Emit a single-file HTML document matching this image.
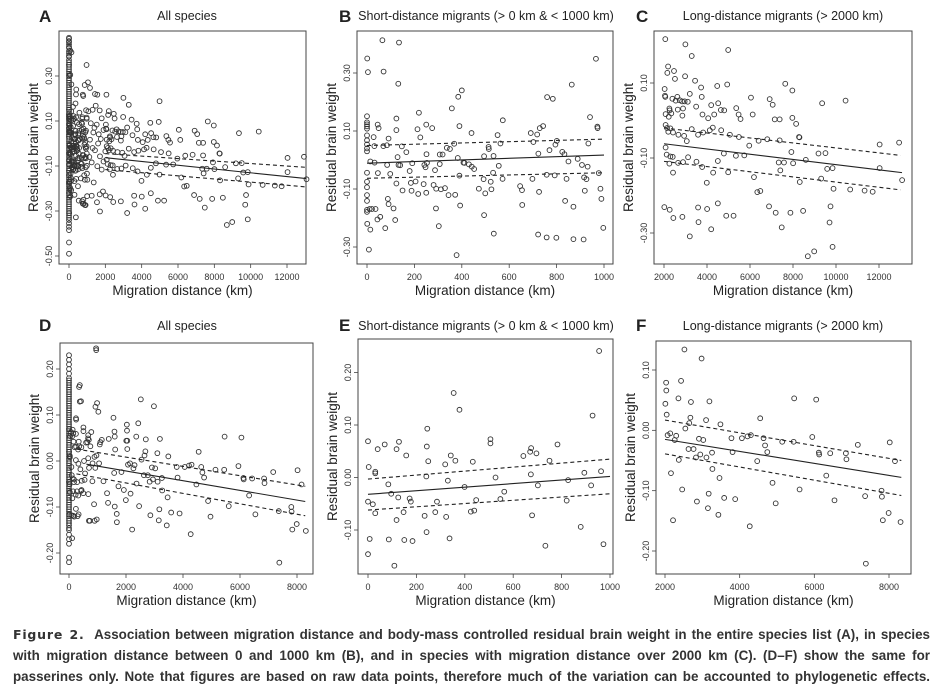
<!DOCTYPE html>
<html><head><meta charset="utf-8">
<style>
html,body{margin:0;padding:0;background:#fff;}
body{width:942px;height:699px;overflow:hidden;position:relative;font-family:"Liberation Sans",sans-serif;}
#fig{position:absolute;left:0;top:0;}
.cap{position:absolute;left:13px;width:917px;font-family:"Liberation Sans",sans-serif;font-weight:bold;font-size:13.4px;color:#333;text-align:justify;text-align-last:justify;white-space:nowrap;line-height:21px;}
.cap span.fig{letter-spacing:0.8px;font-family:"DejaVu Sans",sans-serif;font-size:12.5px;}
</style></head>
<body>
<svg id="fig" width="942" height="610" xmlns="http://www.w3.org/2000/svg"></svg>
<div class="cap" style="top:624px"><span class="fig">Figure 2.</span>&nbsp; Association between migration distance and body-mass controlled residual brain weight in the entire species list (A), in species</div>
<div class="cap" style="top:645px">with migration distance between 0 and 1000 km (B), and in species with migration distance over 2000 km (C). (D–F) show the same for</div>
<div class="cap" style="top:666px">passerines only. Note that figures are based on raw data points, therefore much of the variation can be accounted to phylogenetic effects.</div>
<script>
// ---------- DATA ----------
const aZero = [0.47,0.465,0.455,0.45,0.44,0.43,0.425,0.41,0.40,0.39,0.385,0.37,0.36,0.35,0.34,0.33,0.32,0.31,0.30,0.29,0.28,0.27,0.26,0.25,0.24,0.23,0.22,0.21,0.20,0.19,0.18,0.17,0.16,0.15,0.14,0.13,0.12,0.11,0.10,0.09,0.08,0.07,0.06,0.05,0.04,0.03,0.02,0.01,0.0,-0.01,-0.02,-0.03,-0.04,-0.05,-0.06,-0.07,-0.08,-0.09,-0.10,-0.11,-0.12,-0.13,-0.14,-0.15,-0.16,-0.17,-0.18,-0.19,-0.20,-0.21,-0.22,-0.23,-0.24,-0.25,-0.26,-0.27,-0.28,-0.29,-0.30,-0.31,-0.32,-0.33,-0.34,-0.355,-0.37,-0.385,-0.44,-0.49];
const aMid = [[1045,0.272],[1155,0.247],[1430,0.220],[1560,0.217],[1065,0.143],[1300,0.150],[1470,0.168],[1690,0.147],[1800,0.112],[1525,0.084],[1340,0.049],[1635,0.041],[1155,0.017],[970,-0.013],[1430,-0.030],[1705,-0.057],[1250,-0.084],[1560,-0.101],[1010,-0.161],[1360,-0.173],[1250,-0.232],[1690,-0.226],[1870,-0.213],[1540,-0.261],[1705,-0.302],[790,-0.250],[1800,-0.116],[1120,-0.060],[2000,-0.035],[1900,0.06],[1200,0.09],[1600,0.0],[600,0.02],[450,-0.03],[1300,-0.02],[1750,0.02],[900,0.05],[1900,-0.08],[1400,0.07],[700,-0.09]];
const bPoints = [[65,0.413],[135,0.405],[1,0.35],[4,0.303],[70,0.305],[132,0.263],[0,0.151],[0,0.130],[0,0.123],[0,0.116],[0,0.108],[0,0.085],[0,0.068],[0,0.054],[0,0.040],[0,0.030],[0,-0.044],[0,-0.075],[0,-0.094],[0,-0.121],[0,-0.141],[0,-0.172],[0,-0.179],[1,-0.220],[8,-0.309],[14,-0.005],[14,-0.240],[11,-0.169],[21,-0.169],[28,0.079],[31,0.048],[32,-0.009],[36,-0.169],[44,-0.205],[45,0.122],[49,0.110],[46,-0.045],[56,-0.196],[77,-0.235],[69,0.048],[84,0.051],[85,-0.017],[88,-0.134],[91,0.074],[91,-0.152],[98,-0.048],[112,-0.167],[119,-0.207],[124,0.143],[124,0.103],[124,-0.081],[129,0.010],[133,-0.017],[140,-0.018],[147,0.047],[150,-0.105],[166,0.027],[180,-0.038],[185,-0.079],[188,-0.106],[191,-0.011],[205,-0.074],[213,0.106],[216,-0.117],[219,0.163],[225,0.078],[242,-0.017],[239,-0.083],[247,-0.025],[250,0.122],[250,-0.113],[251,0.020],[253,-0.010],[275,0.110],[281,-0.086],[287,-0.035],[291,-0.167],[292,-0.099],[303,-0.228],[307,-0.014],[312,-0.101],[307,0.019],[319,0.019],[329,-0.097],[337,0.042],[344,-0.121],[350,0.038],[358,0.178],[368,0.056],[372,-0.120],[378,-0.328],[383,0.007],[385,0.218],[390,0.117],[390,-0.054],[393,-0.157],[400,0.240],[407,-0.009],[411,-0.010],[430,-0.015],[441,0.093],[442,-0.023],[452,-0.031],[472,-0.099],[492,-0.066],[494,-0.190],[499,-0.115],[494,0.013],[513,0.045],[514,0.038],[522,-0.075],[525,-0.101],[532,-0.044],[534,0.014],[535,-0.254],[551,0.086],[556,-0.020],[563,0.057],[573,0.137],[572,-0.065],[646,-0.090],[654,-0.104],[655,-0.155],[698,-0.065],[691,0.093],[702,0.062],[718,0.088],[723,0.022],[726,-0.110],[729,0.110],[743,0.117],[722,-0.257],[758,-0.051],[760,0.217],[770,0.034],[784,0.211],[792,-0.053],[795,0.053],[801,0.066],[758,-0.267],[799,-0.268],[824,0.028],[833,0.020],[836,-0.141],[842,-0.065],[850,-0.005],[864,0.260],[871,-0.161],[871,-0.273],[889,0.004],[907,-0.017],[916,-0.060],[914,-0.274],[919,-0.106],[926,-0.066],[931,-0.023],[941,0.148],[934,0.057],[966,0.349],[972,0.115],[973,0.110],[978,-0.045],[985,-0.099],[989,-0.134],[997,-0.234]];
const cPoints = [[2060,0.217],[2995,0.203],[3290,0.172],[4985,0.188],[2190,0.144],[2155,0.127],[2465,0.132],[2510,0.111],[2980,0.118],[3445,0.106],[2030,0.084],[2045,0.066],[2060,0.063],[3200,0.071],[3725,0.088],[4475,0.092],[4940,0.096],[2390,0.058],[2545,0.053],[2620,0.063],[2730,0.054],[2840,0.051],[2960,0.051],[3105,0.050],[3755,0.063],[2250,0.032],[2340,0.019],[2265,0.027],[2640,0.029],[2885,0.032],[3495,0.037],[4195,0.041],[4520,0.046],[4645,0.028],[4800,0.027],[5360,0.033],[6045,0.061],[6125,0.016],[6915,0.057],[7055,0.042],[7640,0.098],[7970,0.080],[9355,0.046],[10445,0.053],[2075,0.017],[2220,0.010],[2855,0.013],[3790,0.016],[4055,0.006],[4335,0.016],[5470,0.016],[5560,0.004],[7150,0.003],[7380,0.003],[7970,0.007],[8145,-0.009],[2075,-0.012],[2140,-0.020],[2295,-0.021],[2200,-0.030],[2420,-0.032],[2670,-0.038],[2935,-0.041],[3060,-0.055],[3290,-0.023],[3585,-0.038],[3820,-0.032],[4130,-0.026],[4270,-0.019],[4660,-0.026],[5065,-0.038],[5485,-0.044],[5965,-0.067],[6400,-0.054],[6805,-0.050],[7380,-0.053],[8280,-0.044],[8300,-0.045],[2075,-0.072],[2125,-0.091],[2295,-0.096],[2405,-0.097],[2250,-0.115],[2420,-0.139],[2655,-0.113],[2885,-0.111],[3120,-0.098],[3510,-0.110],[3775,-0.124],[3990,-0.166],[4285,-0.139],[4505,-0.108],[4785,-0.088],[4985,-0.138],[5345,-0.094],[5735,-0.093],[6185,-0.151],[6340,-0.191],[6480,-0.188],[7335,-0.112],[7410,-0.133],[7580,-0.112],[7925,-0.084],[8005,-0.114],[8315,-0.164],[8595,-0.105],[9185,-0.088],[9510,-0.087],[9590,-0.129],[9840,-0.127],[9310,-0.155],[2015,-0.231],[2265,-0.238],[2435,-0.260],[2855,-0.257],[3585,-0.232],[3605,-0.271],[4005,-0.236],[4195,-0.290],[3200,-0.309],[4505,-0.221],[4895,-0.254],[5235,-0.254],[6885,-0.229],[7195,-0.246],[7475,-0.285],[7880,-0.246],[8470,-0.241],[9700,-0.272],[9745,-0.229],[9840,-0.337],[8985,-0.349],[8690,-0.362],[10660,-0.184],[11330,-0.187],[11705,-0.190],[12030,-0.064],[12030,-0.127],[12935,-0.059],[13075,-0.159],[9885,-0.182]];
const dZero = [0.23,0.22,0.21,0.20,0.19,0.18,0.175,0.17,0.165,0.16,0.155,0.15,0.145,0.14,0.135,0.13,0.125,0.12,0.115,0.11,0.105,0.10,0.095,0.09,0.085,0.08,0.075,0.07,0.065,0.06,0.055,0.05,0.045,0.04,0.035,0.03,0.025,0.02,0.015,0.01,0.005,0.0,-0.005,-0.01,-0.015,-0.02,-0.025,-0.03,-0.035,-0.04,-0.045,-0.05,-0.055,-0.06,-0.065,-0.07,-0.075,-0.08,-0.085,-0.09,-0.095,-0.10,-0.105,-0.11,-0.115,-0.12,-0.125,-0.13,-0.135,-0.14,-0.15,-0.16,-0.17,-0.18,-0.21,-0.22];
const dMid = [[985,0.126],[1030,0.107],[1080,0.036],[1100,0.041],[1055,-0.005],[1150,0.046],[1210,-0.044],[1335,-0.070],[1370,-0.091],[1395,0.048],[1560,0.094],[1595,0.064],[1605,0.053],[1620,0.025],[1585,-0.026],[1605,-0.099],[1675,-0.115],[1680,-0.133],[1735,-0.055],[1840,-0.024],[1925,-0.063],[1995,-0.085],[2045,0.044],[380,0.165],[420,0.13],[250,0.09],[150,0.06],[200,0.03],[300,-0.12],[700,-0.13],[900,-0.13],[500,-0.07],[600,0.04],[950,0.245]];
const ePoints = [[0,0.069],[3,0.020],[7,-0.117],[0,-0.146],[0,-0.046],[20,-0.051],[30,-0.068],[30,0.011],[30,0.008],[40,0.054],[69,0.063],[84,-0.013],[86,-0.118],[96,-0.031],[109,-0.168],[118,0.054],[118,-0.081],[125,-0.038],[128,0.068],[150,-0.119],[147,-0.066],[158,0.042],[172,-0.040],[177,-0.046],[184,-0.121],[234,-0.073],[242,-0.104],[241,0.002],[243,0.059],[245,0.093],[249,0.031],[278,-0.066],[285,-0.046],[319,0.025],[323,-0.075],[330,-0.006],[337,-0.116],[342,0.042],[354,0.161],[361,0.032],[378,0.129],[399,-0.018],[425,-0.065],[433,0.030],[439,-0.063],[447,-0.043],[506,0.073],[506,0.065],[527,0.0],[547,-0.041],[563,-0.027],[642,0.041],[670,0.049],[674,0.056],[673,0.006],[678,-0.072],[696,0.046],[702,-0.015],[733,-0.130],[750,0.032],[783,0.063],[821,-0.044],[827,-0.005],[879,-0.094],[894,0.009],[922,-0.015],[928,0.118],[955,0.241],[963,0.012],[973,-0.127]];
const fPoints = [[2030,0.079],[2035,0.066],[2010,0.044],[2045,0.026],[2070,-0.008],[2140,-0.005],[2160,-0.071],[2215,-0.149],[2260,-0.016],[2300,-0.009],[2360,0.053],[2370,-0.049],[2430,0.082],[2460,-0.098],[2520,0.134],[2545,0.003],[2630,-0.031],[2650,0.012],[2680,0.021],[2695,0.047],[2765,-0.031],[2830,-0.045],[2855,-0.118],[2910,-0.014],[2945,-0.040],[2980,0.119],[3025,-0.016],[3110,-0.045],[3100,0.017],[3170,-0.105],[3150,-0.129],[3190,0.048],[3260,-0.037],[3270,-0.064],[3430,-0.140],[3460,-0.079],[3485,0.010],[3585,-0.112],[3780,-0.013],[3810,-0.036],[3880,-0.114],[4060,-0.013],[4210,-0.010],[4270,-0.159],[4300,-0.008],[4470,-0.051],[4550,0.020],[4640,-0.013],[4680,-0.025],[4740,-0.036],[4880,-0.087],[4965,-0.121],[5140,-0.019],[5445,-0.019],[5460,0.053],[5605,-0.098],[5945,-0.011],[6050,0.051],[6120,-0.037],[6130,-0.040],[6320,-0.075],[6425,-0.038],[6540,-0.116],[6845,-0.038],[6860,-0.048],[7165,-0.024],[7360,-0.109],[7380,-0.221],[7800,-0.100],[7810,-0.110],[7835,-0.149],[7990,-0.137],[8020,-0.020],[8160,-0.051],[8310,-0.152]];
// regression fits: [x0,y0,x1,y1]
const fitA = {mid:[2000,-0.063,13070,-0.156], up:[2000,-0.045,13070,-0.106], lo:[2000,-0.116,13070,-0.193]};
const fitB = {mid:[0,-0.011,1000,0.017], up:[0,0.050,1000,0.072], lo:[0,-0.063,1000,-0.044]};
const fitC = {mid:[2000,-0.062,13070,-0.139], up:[2000,-0.020,13000,-0.093], lo:[2000,-0.109,13000,-0.185]};
const fitD = {mid:[610,-0.007,8290,-0.088], up:[260,0.026,8290,-0.055], lo:[260,-0.028,8290,-0.119]};
const fitE = {mid:[0,-0.032,1000,0.002], up:[0,-0.003,1000,0.035], lo:[0,-0.062,1000,-0.031]};
const fitF = {mid:[2000,-0.015,8330,-0.078], up:[2000,0.017,8330,-0.050], lo:[2000,-0.039,8330,-0.108]};
// tick labels
const ticksA_y=[-0.5,-0.3,-0.1,0.1,0.3], ticksA_x=[0,2000,4000,6000,8000,10000,12000];
const ticksB_y=[-0.3,-0.1,0.1,0.3], ticksB_x=[0,200,400,600,800,1000];
const ticksC_y=[-0.3,-0.1,0.1], ticksC_x=[2000,4000,6000,8000,10000,12000];
const ticksD_y=[-0.2,-0.1,0,0.1,0.2], ticksD_x=[0,2000,4000,6000,8000];
const ticksE_y=[-0.1,0,0.1,0.2], ticksE_x=[0,200,400,600,800,1000];
const ticksF_y=[-0.2,-0.1,0,0.1], ticksF_x=[2000,4000,6000,8000];

// ---------- DRAWING ----------
const NS='http://www.w3.org/2000/svg';
const svg=document.getElementById('fig');
function mk(tag,attrs,parent){const e=document.createElementNS(NS,tag);for(const k in attrs)e.setAttribute(k,attrs[k]);(parent||svg).appendChild(e);return e;}
function scale(d0,d1,p0,p1){return v=>p0+(v-d0)*(p1-p0)/(d1-d0);}

function panel(cfg){
  const g=mk('g',{});
  
  
  const sx=scale(cfg.xd[0],cfg.xd[1],cfg.xp[0],cfg.xp[1]);
  const sy=scale(cfg.yd[0],cfg.yd[1],cfg.yp[0],cfg.yp[1]);
  const b=cfg.box;
  const box=mk('rect',{x:b[0],y:b[1],width:b[2]-b[0],height:b[3]-b[1],fill:'none',stroke:'#444','stroke-width':1},g);
  
  
  const L=mk('text',{x:cfg.letter[0],y:cfg.letter[1],'font-size':17,'font-weight':'bold',fill:'#222','font-family':'Liberation Sans, sans-serif'},g);
  L.textContent=cfg.id;
  
  
  const T=mk('text',{x:cfg.title[0],y:cfg.title[1],'font-size':12.5,fill:'#222','text-anchor':'middle','font-family':'Liberation Sans, sans-serif'},g);
  T.textContent=cfg.titleText;
  
  
  const cy=(b[1]+b[3])/2;
  const YT=mk('text',{x:0,y:0,'font-size':13.5,fill:'#222','text-anchor':'middle','font-family':'Liberation Sans, sans-serif',transform:`translate(${b[0]-21},${cy}) rotate(-90)`},g);
  YT.textContent='Residual brain weight';
  
  
  const XT=mk('text',{x:(b[0]+b[2])/2,y:b[3]+31,'font-size':13.5,fill:'#222','text-anchor':'middle','font-family':'Liberation Sans, sans-serif'},g);
  XT.textContent='Migration distance (km)';
  
  
  cfg.yt.forEach(v=>{
    const y=sy(v);
    const tk=mk('line',{x1:b[0]-4,x2:b[0],y1:y,y2:y,stroke:'#444','stroke-width':0.8},g);
    
    
    const t=mk('text',{x:0,y:0,'font-size':9,fill:'#333','text-anchor':'middle','font-family':'Liberation Sans, sans-serif',transform:`translate(${b[0]-7},${y}) rotate(-90)`},g);
    t.textContent=v.toFixed(2);
    
    
  });
  cfg.xt.forEach(v=>{
    const x=sx(v);
    const tk=mk('line',{x1:x,x2:x,y1:b[3],y2:b[3]+4,stroke:'#444','stroke-width':0.8},g);
    
    
    const t=mk('text',{x:x,y:b[3]+16,'font-size':9,fill:'#333','text-anchor':'middle','font-family':'Liberation Sans, sans-serif'},g);
    t.textContent=String(v);
    
    
  });
  cfg.pts.forEach(p=>{
    const c=mk('circle',{cx:sx(p[0]),cy:sy(p[1]),r:2.4,fill:'none',stroke:'#333','stroke-width':0.9},g);
    
    
  });
  [['mid','none'],['up','4,3'],['lo','4,3']].forEach(([k,dash])=>{
    const f=cfg.fit[k];
    const ln=mk('line',{x1:sx(f[0]),y1:sy(f[1]),x2:sx(f[2]),y2:sy(f[3]),stroke:'#222','stroke-width':1.1,'stroke-dasharray':dash},g);
    
    
  });
}

const aPts=aZero.map(v=>[0,v]).concat(aMid,bPoints,cPoints);
const dPts=dZero.map(v=>[0,v]).concat(dMid,ePoints,fPoints);

panel({id:'A',titleText:'All species',letter:[39,22],title:[187,20],box:[59,31,306,264],xd:[0,12000],xp:[69,287],yd:[0.1,-0.1],yp:[121,166],yt:ticksA_y,xt:ticksA_x,pts:aPts,fit:fitA});
panel({id:'B',titleText:'Short-distance migrants (> 0 km & < 1000 km)',letter:[339,22],title:[486,20],box:[357,31,613,264],xd:[0,1000],xp:[367,604],yd:[0.1,-0.1],yp:[131,189],yt:ticksB_y,xt:ticksB_x,pts:bPoints,fit:fitB});
panel({id:'C',titleText:'Long-distance migrants (> 2000 km)',letter:[636,22],title:[783,20],box:[654,31,912,264],xd:[2000,12000],xp:[664,879],yd:[0.1,-0.1],yp:[83,158],yt:ticksC_y,xt:ticksC_x,pts:cPoints,fit:fitC});
panel({id:'D',titleText:'All species',letter:[39,331],title:[187,330],box:[60,343,313,574],xd:[0,8000],xp:[69,297],yd:[0.2,-0.2],yp:[369,553],yt:ticksD_y,xt:ticksD_x,pts:dPts,fit:fitD});
panel({id:'E',titleText:'Short-distance migrants (> 0 km & < 1000 km)',letter:[339,331],title:[486,330],box:[358,339,613,574],xd:[0,1000],xp:[368,610],yd:[0.1,-0.1],yp:[425,530],yt:ticksE_y,xt:ticksE_x,pts:ePoints,fit:fitE});
panel({id:'F',titleText:'Long-distance migrants (> 2000 km)',letter:[636,331],title:[783,330],box:[656,341,911,574],xd:[2000,8000],xp:[665,889],yd:[0.1,-0.2],yp:[370,551],yt:ticksF_y,xt:ticksF_x,pts:fPoints,fit:fitF});
</script>
</body></html>
